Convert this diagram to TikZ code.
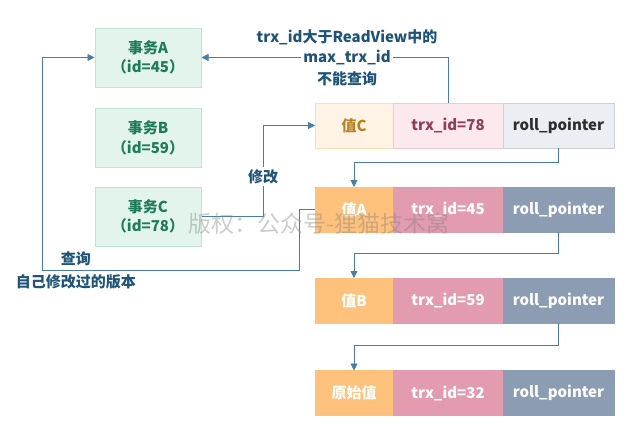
\documentclass[tikz,border=0pt]{standalone}
\usepackage{fontspec}
\setmainfont{Noto Sans CJK SC}
\usepackage{tikz}
\usetikzlibrary{arrows.meta}
\usetikzlibrary{positioning}

\definecolor{txfill}{HTML}{E3F4EC}
\definecolor{txline}{HTML}{BEE5D3}
\definecolor{txtext}{HTML}{1E7B5B}
\definecolor{flowline}{HTML}{4A7DA3}
\definecolor{notetext}{HTML}{1F5478}
\definecolor{valCfill}{HTML}{FFF3E5}
\definecolor{valCline}{HTML}{FBDDB8}
\definecolor{valCtext}{HTML}{B8801E}
\definecolor{trxCfill}{HTML}{FCE9EE}
\definecolor{trxCline}{HTML}{F3C7D3}
\definecolor{trxCtext}{HTML}{8F3D5C}
\definecolor{rollCfill}{HTML}{EBEEF2}
\definecolor{rollCline}{HTML}{CAD1DA}
\definecolor{rollCtext}{HTML}{2E2E2E}
\definecolor{valfill}{HTML}{FFC27C}
\definecolor{trxfill}{HTML}{E39CAF}
\definecolor{rollfill}{HTML}{8C9CB3}

\tikzset{
  txbox/.style={draw=txline, fill=txfill, text=txtext, line width=1pt,
    minimum width=106pt, minimum height=59pt, align=center,
    font=\fontsize{15}{19.5}\selectfont\bfseries},
  cell/.style={line width=1pt, outer sep=0pt, inner sep=0pt,
    minimum height=45pt, font=\fontsize{15}{17}\selectfont\bfseries},
  valcell/.style={cell, minimum width=78pt},
  trxcell/.style={cell, minimum width=110pt},
  rollcell/.style={cell, minimum width=111pt},
  newval/.style={draw=valCline, fill=valCfill, text=valCtext},
  newtrx/.style={draw=trxCline, fill=trxCfill, text=trxCtext},
  newroll/.style={draw=rollCline, fill=rollCfill, text=rollCtext},
  oldval/.style={draw=valfill, fill=valfill, text=white},
  oldtrx/.style={draw=trxfill, fill=trxfill, text=white},
  oldroll/.style={draw=rollfill, fill=rollfill, text=white},
  flow/.style={draw=flowline, line width=0.8pt},
  arr/.style={-{Triangle[length=7pt,width=7pt]}},
  note/.style={text=notetext, inner sep=2pt, font=\fontsize{15}{17}\selectfont\bfseries},
  watermark/.style={text=gray, text opacity=0.4, font=\fontsize{23}{24}\selectfont}
}

\begin{document}
\begin{tikzpicture}[x=1pt, y=-1pt]
  \useasboundingbox (0,0) rectangle (635,432);

  % transactions
  \node[txbox] (txA) at (148,57.5) {事务A\\（id=45）};
  \node[txbox] (txB) at (148,138) {事务B\\（id=59）};
  \node[txbox] (txC) at (148,216.5) {事务C\\（id=78）};

  % version chain
  \node[valcell, newval] (valC) at (354,125.5) {值C};
  \node[trxcell, newtrx, right=0pt of valC] (trxC) {trx\_id=78};
  \node[rollcell, newroll, right=0pt of trxC] (rollC) {roll\_pointer};

  \node[valcell, oldval] (valA) at (354,209.5) {值A};
  \node[trxcell, oldtrx, right=0pt of valA] (trxA) {trx\_id=45};
  \node[rollcell, oldroll, right=0pt of trxA] (rollA) {roll\_pointer};

  \node[valcell, oldval] (valB) at (354,300.5) {值B};
  \node[trxcell, oldtrx, right=0pt of valB] (trxB) {trx\_id=59};
  \node[rollcell, oldroll, right=0pt of trxB] (rollB) {roll\_pointer};

  \node[valcell, oldval] (valO) at (354,393) {原始值};
  \node[trxcell, oldtrx, right=0pt of valO] (trxO) {trx\_id=32};
  \node[rollcell, oldroll, right=0pt of trxO] (rollO) {roll\_pointer};

  % roll pointers
  \draw[flow, arr] (rollC.south) |- ([yshift=25pt]valA.north) -- (valA.north);
  \draw[flow, arr] (rollA.south) |- ([yshift=25pt]valB.north) -- (valB.north);
  \draw[flow, arr] (rollB.south) |- ([yshift=25pt]valO.north) -- (valO.north);

  % not visible to A
  \node[note, fill=white] (lblmax) at (347,57.5) {max\_trx\_id};
  \node[note] (lbltop) at (347,37) {trx\_id大于ReadView中的};
  \node[note] (lblbot) at (347,79) {不能查询};
  \draw[flow] (trxC.north) |- (lblmax.east);
  \draw[flow, arr] (lblmax.west) -- (txA.east);

  % C modifies
  \coordinate (modbend) at (263,125.5);
  \draw[flow, arr] (txC.east) -| node[note, fill=white, pos=0.72] (lblmod) {修改} (modbend) -- (valC.west);

  % C reads its own version
  \coordinate (qdown) at (299,270);
  \coordinate (qleft) at (42,270);
  \draw[flow, arr] (valA.west) -| (qdown) -- (qleft) |- (txA.west);
  \node[note, align=center, font=\fontsize{15}{23}\selectfont\bfseries] (lblq) at (76,270.5) {查询\\自己修改过的版本};

  \node[watermark] (wm) at (319,224) {版权：公众号-狸猫技术窝};
\end{tikzpicture}
\end{document}
